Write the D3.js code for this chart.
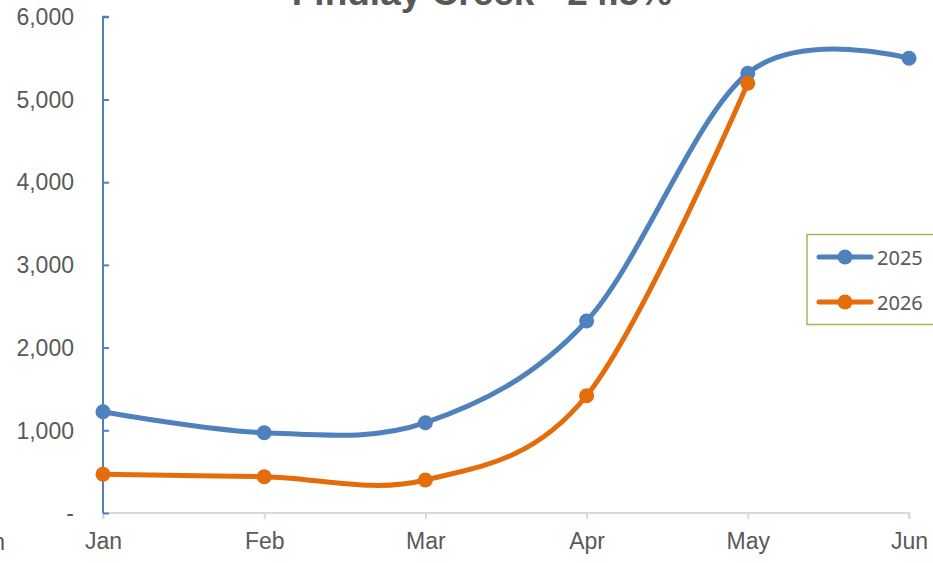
<!DOCTYPE html>
<html><head><meta charset="utf-8">
<script src="https://cdn.jsdelivr.net/npm/d3@7"></script>
<style>body{margin:0;background:#fff;}svg{display:block;}</style>
</head><body>
<svg id="c" width="933" height="563"></svg>
<script>
const months = ["Jan","Feb","Mar","Apr","May","Jun"];
const series2025 = [1225, 971, 1092, 2322, 5317, 5498];
const series2026 = [468, 439, 399, 1418, 5196];
const yTicks = [0,1000,2000,3000,4000,5000,6000];
const seriesNames = ["2025","2026"];
const seriesColors = ["#4f81bd","#e46c0a"];
const title = "Findlay Creek - 24.5%";

const svg = d3.select("#c");
const x = d3.scalePoint().domain(months).range([103, 909]);
const y = d3.scaleLinear().domain([0, 6000]).range([513, 16.8]);
const fmt = v => v === 0 ? "-" : d3.format(",")(v);

// title (partly cut off at top)
svg.append("text").attr("x", 482).attr("y", 5).attr("text-anchor","middle")
  .attr("font-family","Liberation Sans, Arial, sans-serif").attr("font-weight","bold")
  .attr("font-size", 37).attr("fill","#595959").text(title);

// x axis
const xa = svg.append("g").attr("transform","translate(0,513)")
  .call(d3.axisBottom(x).tickSize(6).tickPadding(14));
xa.select(".domain").attr("stroke","#d9d9d9").attr("stroke-width",2)
  .attr("d","M103,6V0H909V6");
xa.selectAll(".tick line").attr("stroke","#d9d9d9").attr("stroke-width",2);
xa.selectAll(".tick text").attr("font-family","Liberation Sans, Arial, sans-serif")
  .attr("font-size",23).attr("fill","#595959");

// stray clipped label at the left edge
svg.append("text").attr("x", 5).attr("y", 550).attr("text-anchor","end")
  .attr("font-family","Liberation Sans, Arial, sans-serif").attr("font-size",23)
  .attr("fill","#595959").text(months[months.length-1]);

// y axis
const ya = svg.append("g").attr("transform","translate(103,0)")
  .call(d3.axisRight(y).tickValues(yTicks).tickSize(6).tickFormat(""));
ya.select(".domain").attr("stroke","#4f81bd").attr("stroke-width",2)
  .attr("d", `M6,${y(6000)}H0V${y(0)}`);
ya.selectAll(".tick line").attr("stroke","#4f81bd").attr("stroke-width",2);
svg.append("g").selectAll("text").data(yTicks).join("text")
  .attr("x", 74).attr("y", d => y(d)).attr("dy","0.36em").attr("text-anchor","end")
  .attr("font-family","Liberation Sans, Arial, sans-serif").attr("font-size",23)
  .attr("fill","#595959").text(fmt);

// lines
const line = d3.line().x((d,i)=>x(months[i])).y(d=>y(d)).curve(d3.curveCardinal.tension(0));
[series2025, series2026].forEach((s, k) => {
  svg.append("path").datum(s).attr("d", line).attr("fill","none")
    .attr("stroke", seriesColors[k]).attr("stroke-width",5).attr("stroke-linecap","round");
  svg.append("g").selectAll("circle").data(s).join("circle")
    .attr("cx",(d,i)=>x(months[i])).attr("cy",d=>y(d)).attr("r",7.5).attr("fill",seriesColors[k]);
});

// legend
const lg = svg.append("g");
lg.append("rect").attr("x",807).attr("y",234.5).attr("width",140).attr("height",90)
  .attr("fill","#fff").attr("stroke","#9bbb59").attr("stroke-width",1.5);
seriesNames.forEach((n,k) => {
  const ly = 257 + k*45;
  lg.append("line").attr("x1",819).attr("x2",871).attr("y1",ly).attr("y2",ly)
    .attr("stroke",seriesColors[k]).attr("stroke-width",5).attr("stroke-linecap","round");
  lg.append("circle").attr("cx",845).attr("cy",ly).attr("r",7.5).attr("fill",seriesColors[k]);
  lg.append("text").attr("x",877).attr("y",ly+8).attr("font-family","Noto Sans, sans-serif")
    .attr("font-size",20).attr("fill","#595959").text(n);
});
</script>
</body></html>
